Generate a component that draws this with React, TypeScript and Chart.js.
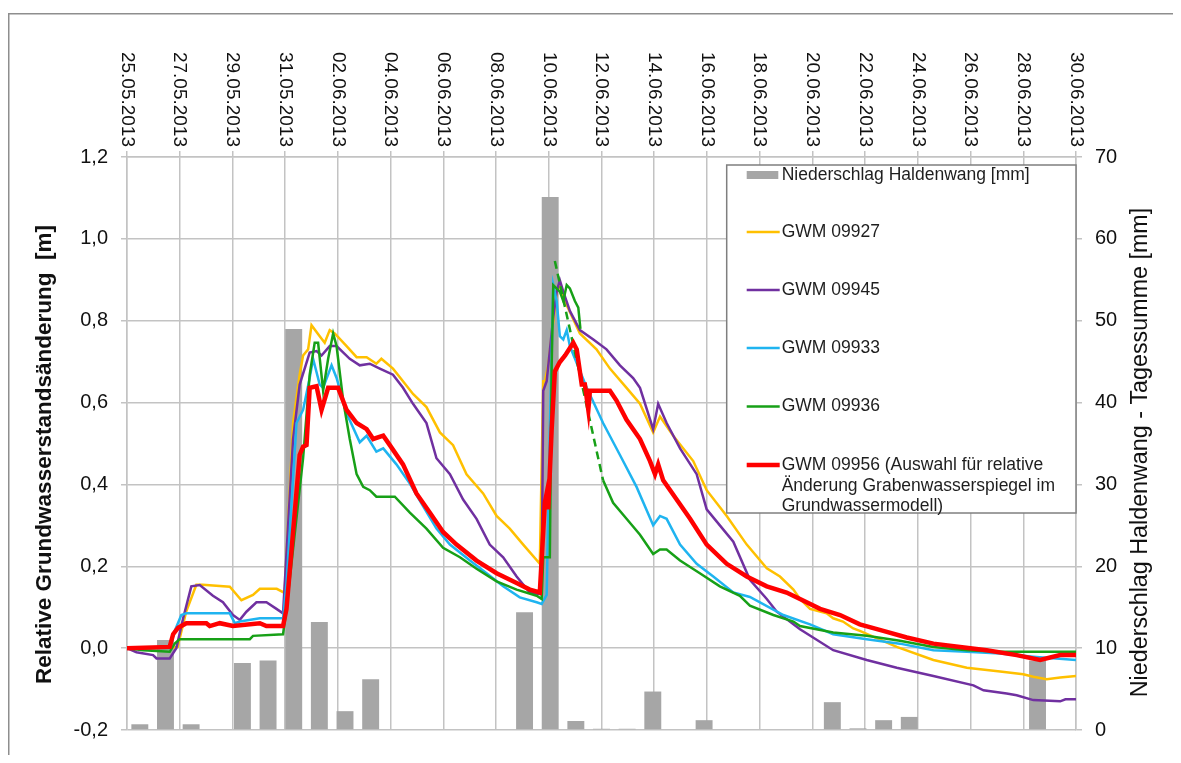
import React, { useEffect, useRef } from 'react';
import { Chart, registerables } from 'chart.js';

Chart.register(...registerables);

const FONT = '"Liberation Sans", Arial, sans-serif';

// Top axis tick labels (every 2 days, day offset from 25.05.2013)
const dateLabels = [
  '25.05.2013', '27.05.2013', '29.05.2013', '31.05.2013', '02.06.2013', '04.06.2013', '06.06.2013',
  '08.06.2013', '10.06.2013', '12.06.2013', '14.06.2013', '16.06.2013', '18.06.2013', '20.06.2013',
  '22.06.2013', '24.06.2013', '26.06.2013', '28.06.2013', '30.06.2013',
];
const dateTickDays = [0, 2, 4, 6, 8, 10, 12, 14, 16, 18, 20, 22, 24, 26, 28, 30, 32, 34, 36];

// Daily categories for precipitation bars
const dayCategories = [
  '25.05', '26.05', '27.05', '28.05', '29.05', '30.05', '31.05', '01.06', '02.06', '03.06',
  '04.06', '05.06', '06.06', '07.06', '08.06', '09.06', '10.06', '11.06', '12.06', '13.06',
  '14.06', '15.06', '16.06', '17.06', '18.06', '19.06', '20.06', '21.06', '22.06', '23.06',
  '24.06', '25.06', '26.06', '27.06', '28.06', '29.06', '30.06',
];
// Niederschlag Haldenwang [mm]
const precipitation = [
  0.7, 11.0, 0.7, 0, 8.2, 8.5, 49.0, 13.2, 2.3, 6.2,
  0, 0, 0, 0, 0, 14.4, 65.1, 1.1, 0.15, 0.15,
  4.7, 0, 1.2, 0, 0, 0, 0, 3.4, 0.2, 1.2,
  1.6, 0.1, 0.1, 0, 0, 8.5, 0.1,
];

// [day since 25.05.2013 00:00, relative change in m]
const gwm09927: [number, number | null][] = [
  [0, 0], [1.6, 0], [1.92, 0.003], [2.25, 0.09], [2.63, 0.155], [2.87, 0.155], [3.9, 0.15], [4.34, 0.117],
  [4.78, 0.13], [5.04, 0.145], [5.68, 0.145], [5.98, 0.135], [6.3, 0.55], [6.55, 0.668], [6.68, 0.715],
  [6.87, 0.73], [7.0, 0.789], [7.31, 0.762], [7.5, 0.746], [7.69, 0.777], [7.88, 0.769], [8.33, 0.738],
  [8.71, 0.711], [9.09, 0.711], [9.46, 0.695], [9.65, 0.707], [10.09, 0.683], [10.47, 0.652], [10.85, 0.621],
  [11.36, 0.589], [11.87, 0.527], [12.37, 0.496], [12.88, 0.425], [13.51, 0.378], [14.02, 0.323], [14.52, 0.292],
  [15.03, 0.253], [15.66, 0.206], [15.79, 0.652], [15.85, 0.652], [15.98, 0.691], [16.3, 0.871], [16.42, 0.887],
  [16.55, 0.856], [17.18, 0.769], [17.81, 0.73], [18.32, 0.683], [18.95, 0.636], [19.46, 0.597], [19.96, 0.527],
  [20.22, 0.566], [20.72, 0.519], [21.48, 0.457], [21.99, 0.386], [22.75, 0.323], [23.51, 0.253], [24.27, 0.195],
  [24.77, 0.175], [25.28, 0.143], [25.53, 0.12], [25.91, 0.096], [26.54, 0.085], [26.79, 0.073], [27.16, 0.065],
  [27.55, 0.048], [27.8, 0.042], [29.2, 0.003], [30.59, -0.029], [31.86, -0.048], [33.12, -0.057], [34.0, -0.064],
  [34.38, -0.07], [34.89, -0.076], [35.4, -0.072], [36, -0.068],
];
const gwm09945: [number, number | null][] = [
  [0, 0], [0.36, -0.01], [0.99, -0.017], [1.12, -0.025], [1.62, -0.025], [1.87, 0], [2.13, 0.073], [2.44, 0.151],
  [2.76, 0.154], [3.26, 0.128], [3.64, 0.112], [4.02, 0.081], [4.28, 0.069], [4.53, 0.089], [4.91, 0.112],
  [5.29, 0.112], [5.67, 0.096], [5.92, 0.085], [6.3, 0.511], [6.55, 0.644], [6.93, 0.722], [7.19, 0.726],
  [7.38, 0.715], [7.69, 0.738], [7.95, 0.738], [8.45, 0.707], [8.83, 0.691], [9.21, 0.695], [9.59, 0.683],
  [10.09, 0.668], [10.47, 0.636], [10.85, 0.597], [11.36, 0.55], [11.74, 0.464], [12.25, 0.425], [12.75, 0.363],
  [13.26, 0.316], [13.76, 0.253], [14.27, 0.222], [14.78, 0.175], [15.28, 0.136], [15.66, 0.132], [15.73, 0.159],
  [15.79, 0.629], [15.92, 0.652], [16.17, 0.809], [16.3, 0.871], [16.42, 0.899], [16.55, 0.871], [16.8, 0.824],
  [17.18, 0.777], [17.69, 0.754], [18.19, 0.73], [18.7, 0.691], [19.2, 0.66], [19.46, 0.636], [19.96, 0.535],
  [20.15, 0.597], [20.47, 0.55], [20.98, 0.488], [21.61, 0.425], [21.99, 0.339], [22.49, 0.3], [23.0, 0.26],
  [23.63, 0.167], [24.27, 0.12], [24.65, 0.089], [25.53, 0.046], [26.79, -0.005], [28.06, -0.029], [29.2, -0.048],
  [30.59, -0.068], [32.11, -0.091], [32.49, -0.103], [33.37, -0.111], [33.75, -0.115], [34.38, -0.127],
  [35.4, -0.13], [35.6, -0.125], [36, -0.125],
];
const gwm09933: [number, number | null][] = [
  [0, 0], [1.62, 0], [1.81, 0.042], [2.06, 0.081], [2.25, 0.085], [3.9, 0.085], [4.09, 0.061], [4.28, 0.065],
  [5.04, 0.073], [5.92, 0.073], [6.05, 0.159], [6.43, 0.55], [6.68, 0.582], [6.93, 0.66], [7.06, 0.707],
  [7.31, 0.644], [7.44, 0.636], [7.76, 0.691], [7.95, 0.66], [8.33, 0.574], [8.83, 0.503], [9.09, 0.519],
  [9.46, 0.48], [9.72, 0.488], [10.22, 0.449], [10.73, 0.402], [11.23, 0.347], [11.74, 0.292], [12.25, 0.253],
  [13.01, 0.214], [13.64, 0.183], [14.27, 0.151], [14.9, 0.124], [15.54, 0.112], [15.73, 0.108], [15.92, 0.13],
  [16.04, 0.535], [16.17, 0.887], [16.3, 0.848], [16.42, 0.762], [16.55, 0.754], [16.68, 0.777], [16.8, 0.738],
  [17.44, 0.636], [18.06, 0.55], [18.7, 0.472], [19.33, 0.394], [19.96, 0.3], [20.22, 0.323], [20.47, 0.316],
  [20.98, 0.253], [21.61, 0.206], [22.24, 0.175], [23.0, 0.136], [23.63, 0.125], [24.9, 0.081], [25.91, 0.058],
  [26.79, 0.034], [28.06, 0.022], [29.32, 0.011], [30.59, -0.005], [31.86, -0.009], [33.12, -0.013],
  [34.38, -0.021], [36, -0.029],
];
const gwm09936: [number, number | null][] = [
  [0, 0], [0.61, -0.005], [1.62, -0.009], [1.81, 0.011], [2.0, 0.022], [4.66, 0.022], [4.78, 0.03], [5.92, 0.034],
  [6.05, 0.096], [6.68, 0.464], [6.93, 0.668], [7.12, 0.746], [7.25, 0.746], [7.44, 0.629], [7.63, 0.707],
  [7.82, 0.769], [7.95, 0.738], [8.2, 0.605], [8.45, 0.511], [8.71, 0.425], [8.96, 0.394], [9.21, 0.386],
  [9.46, 0.37], [10.16, 0.37], [10.73, 0.331], [11.36, 0.292], [11.99, 0.245], [12.63, 0.222], [13.26, 0.194],
  [14.02, 0.163], [14.78, 0.143], [15.54, 0.128], [15.73, 0.12], [15.79, 0.222], [16.04, 0.222], [16.11, 0.691],
  [16.17, 0.887], [16.42, 0.871], [16.55, 0.848], [16.68, 0.887], [16.8, 0.879], [16.99, 0.848], [17.12, 0.832],
  [17.2, 0.78], [17.3, null], [18.06, 0.41], [18.44, 0.355], [18.95, 0.316], [19.46, 0.277], [19.96, 0.23],
  [20.22, 0.241], [20.47, 0.241], [20.98, 0.214], [21.73, 0.183], [22.49, 0.151], [23.25, 0.128], [23.63, 0.104],
  [24.52, 0.081], [25.28, 0.065], [25.53, 0.054], [26.79, 0.038], [28.06, 0.03], [29.32, 0.018], [30.59, 0.003],
  [31.86, -0.005], [33.12, -0.009], [36, -0.009],
];
const gwm09936Gap: [number, number | null][] = [
  [16.23, 0.946], [18.06, 0.41],
];
const gwm09956: [number, number | null][] = [
  [0, 0], [1.62, 0.003], [1.75, 0.034], [1.94, 0.05], [2.25, 0.061], [3.01, 0.061], [3.14, 0.054], [3.52, 0.061],
  [4.02, 0.054], [5.04, 0.061], [5.29, 0.054], [5.92, 0.054], [6.05, 0.096], [6.55, 0.472], [6.68, 0.492],
  [6.81, 0.496], [6.93, 0.636], [7.19, 0.64], [7.38, 0.582], [7.63, 0.636], [8.01, 0.636], [8.33, 0.582],
  [8.71, 0.55], [9.09, 0.535], [9.34, 0.511], [9.72, 0.519], [9.97, 0.496], [10.47, 0.449], [10.98, 0.378],
  [11.49, 0.331], [11.99, 0.284], [12.5, 0.253], [13.26, 0.214], [14.02, 0.183], [14.78, 0.159], [15.28, 0.143],
  [15.66, 0.136], [15.85, 0.355], [15.92, 0.378], [15.98, 0.339], [16.11, 0.535], [16.23, 0.676], [16.42, 0.699],
  [16.62, 0.715], [16.93, 0.746], [17.06, 0.73], [17.25, 0.644], [17.37, 0.644], [17.5, 0.582], [17.56, 0.629],
  [18.32, 0.629], [18.57, 0.605], [18.95, 0.558], [19.46, 0.511], [19.84, 0.457], [20.03, 0.425], [20.15, 0.449],
  [20.34, 0.41], [20.85, 0.363], [21.36, 0.316], [21.99, 0.253], [22.75, 0.206], [23.51, 0.175], [24.27, 0.151],
  [25.02, 0.136], [25.53, 0.12], [26.29, 0.096], [27.05, 0.081], [27.8, 0.058], [28.69, 0.042], [29.58, 0.026],
  [30.59, 0.011], [31.6, 0.003], [32.61, -0.005], [33.75, -0.017], [34.64, -0.029], [35.4, -0.017], [36, -0.017],
];

const legendItems = [
  { label: ['Niederschlag Haldenwang [mm]'], color: '#A6A6A6', kind: 'bar', width: 0 },
  { label: ['GWM 09927'], color: '#FFC000', kind: 'line', width: 2.5 },
  { label: ['GWM 09945'], color: '#7030A0', kind: 'line', width: 2.5 },
  { label: ['GWM 09933'], color: '#1FB4F0', kind: 'line', width: 2.5 },
  { label: ['GWM 09936'], color: '#17A017', kind: 'line', width: 2.5 },
  {
    label: ['GWM 09956 (Auswahl für relative', 'Änderung Grabenwasserspiegel im', 'Grundwassermodell)'],
    color: '#FF0000', kind: 'line', width: 4.5,
  },
];

const toXY = (arr: [number, number | null][]) => arr.map(([x, y]) => ({ x, y }));

const decorPlugin = {
  id: 'decor',
  afterDraw(chart: any) {
    const ctx = chart.ctx as CanvasRenderingContext2D;
    const xs = chart.scales.x;
    const area = chart.chartArea;
    ctx.save();
    // outer frame
    ctx.strokeStyle = '#8E8E8E';
    ctx.lineWidth = 1.5;
    ctx.beginPath();
    ctx.moveTo(0.75, 747);
    ctx.lineTo(0.75, 5.75);
    ctx.lineTo(1165, 5.75);
    ctx.stroke();

    // top date labels, rotated clockwise
    ctx.fillStyle = '#111';
    ctx.font = `19px ${FONT}`;
    ctx.textAlign = 'right';
    ctx.textBaseline = 'middle';
    dateLabels.forEach((lbl, i) => {
      const px = xs.getPixelForValue(dateTickDays[i]);
      ctx.save();
      ctx.translate(px, area.top - 10);
      ctx.rotate(Math.PI / 2);
      ctx.fillText(lbl, 0, 0);
      ctx.restore();
    });

    // axis titles
    ctx.save();
    ctx.translate(37, (area.top + area.bottom) / 2 + 11);
    ctx.rotate(-Math.PI / 2);
    ctx.textAlign = 'center';
    ctx.font = `bold 22.5px ${FONT}`;
    ctx.fillText('Relative Grundwasserstandsänderung  [m]', 0, 0);
    ctx.restore();

    ctx.save();
    ctx.translate(1133, (area.top + area.bottom) / 2 + 9);
    ctx.rotate(-Math.PI / 2);
    ctx.textAlign = 'center';
    ctx.font = `23.3px ${FONT}`;
    ctx.fillText('Niederschlag Haldenwang - Tagessumme [mm]', 0, 0);
    ctx.restore();

    // legend box
    const bx = 718.7;
    const by = area.top + 8;
    const bw = area.right - bx;
    const bh = 348;
    ctx.fillStyle = '#FFFFFF';
    ctx.fillRect(bx, by, bw, bh);
    ctx.strokeStyle = '#7F7F7F';
    ctx.lineWidth = 1.5;
    ctx.strokeRect(bx, by, bw, bh);
    const rowY = [10, 67, 125, 183, 241.5, 300];
    ctx.font = `17.5px ${FONT}`;
    ctx.textAlign = 'left';
    ctx.textBaseline = 'middle';
    legendItems.forEach((it, i) => {
      const cy = by + rowY[i];
      if (it.kind === 'bar') {
        ctx.fillStyle = it.color;
        ctx.fillRect(bx + 20, cy - 4, 31.6, 8);
      } else {
        ctx.strokeStyle = it.color;
        ctx.lineWidth = it.width;
        ctx.beginPath();
        ctx.moveTo(bx + 20, cy);
        ctx.lineTo(bx + 53, cy);
        ctx.stroke();
      }
      ctx.fillStyle = '#1E1E1E';
      it.label.forEach((line, j) => {
        ctx.fillText(line, bx + 55, cy + j * 20.7);
      });
    });
    ctx.restore();
  },
};

export default function App() {
  const ref = useRef<HTMLCanvasElement>(null);
  useEffect(() => {
    const gridColor = '#C3C3C3';
    const lineDs = (label: string, data: [number, number | null][], color: string, width: number, order: number, dash?: number[]) => ({
      type: 'line' as const,
      label,
      data: toXY(data),
      xAxisID: 'x',
      yAxisID: 'y',
      borderColor: color,
      backgroundColor: color,
      borderWidth: width,
      borderDash: dash || [],
      pointRadius: 0,
      tension: 0,
      fill: false,
      spanGaps: false,
      order,
    });
    const chart = new Chart(ref.current as HTMLCanvasElement, {
      type: 'line',
      data: {
        datasets: [
          lineDs('GWM 09956', gwm09956, '#FF0000', 4.5, 1),
          lineDs('GWM 09936', gwm09936, '#17A017', 2.5, 2),
          lineDs('GWM 09936 (Lücke)', gwm09936Gap, '#17A017', 2.5, 2, [8, 5]),
          lineDs('GWM 09933', gwm09933, '#1FB4F0', 2.5, 3),
          lineDs('GWM 09945', gwm09945, '#7030A0', 2.5, 4),
          lineDs('GWM 09927', gwm09927, '#FFC000', 2.5, 5),
          {
            type: 'bar' as const,
            label: 'Niederschlag Haldenwang [mm]',
            data: precipitation,
            xAxisID: 'xb',
            yAxisID: 'y2',
            backgroundColor: '#A6A6A6',
            borderWidth: 0,
            grouped: false,
            barPercentage: 0.66,
            categoryPercentage: 1,
            order: 10,
          } as any,
        ],
      },
      options: {
        responsive: false,
        animation: false,
        devicePixelRatio: 1,
        layout: { padding: { bottom: 3, top: 0, left: 0, right: 0 } },
        plugins: { legend: { display: false }, tooltip: { enabled: false } },
        scales: {
          x: {
            type: 'linear',
            position: 'top',
            min: 0,
            max: 36,
            ticks: { stepSize: 2, display: false },
            grid: { color: gridColor, lineWidth: 1.5, tickLength: 6, drawTicks: true },
            border: { color: gridColor, width: 1.5 },
            afterFit: (s: any) => { s.height = 149; },
          },
          xb: {
            type: 'category',
            labels: dayCategories,
            display: false,
            offset: true,
            ticks: { autoSkip: false },
          },
          y: {
            position: 'left',
            min: -0.2,
            max: 1.2,
            ticks: {
              stepSize: 0.2,
              padding: 13,
              color: '#111',
              font: { family: FONT, size: 20 },
              callback: (v: any) => {
                const n = Math.abs(Number(v)) < 1e-9 ? 0 : Number(v);
                return n.toFixed(1).replace('.', ',');
              },
            },
            grid: { color: gridColor, lineWidth: 1.5, tickLength: 6 },
            border: { color: gridColor, width: 1.5 },
            afterFit: (s: any) => { s.width = 119; },
          },
          y2: {
            position: 'right',
            min: 0,
            max: 70,
            ticks: {
              stepSize: 10,
              padding: 13,
              color: '#111',
              font: { family: FONT, size: 20 },
            },
            grid: { drawOnChartArea: false, color: gridColor, lineWidth: 1.5, tickLength: 6 },
            border: { color: gridColor, width: 1.5 },
            afterFit: (s: any) => { s.width = 97; },
          },
        },
      } as any,
      plugins: [decorPlugin],
    });
    return () => chart.destroy();
  }, []);
  return (
    <div style={{ width: 1165, height: 747 }}>
      <canvas ref={ref} width={1165} height={747} style={{ display: 'block' }} />
    </div>
  );
}
